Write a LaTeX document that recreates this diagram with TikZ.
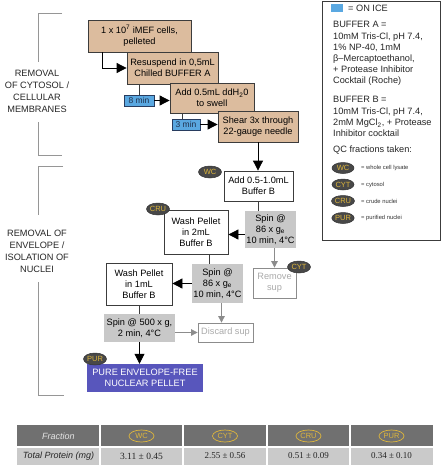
\documentclass[tikz,border=0pt]{standalone}
\usepackage{fontspec}
\setmainfont{Liberation Sans}
\newfontfamily\tabserif{Liberation Serif}
\usetikzlibrary{arrows.meta,shapes.geometric}
\definecolor{tan}{RGB}{220,188,158}
\definecolor{bordr}{RGB}{60,60,60}
\definecolor{icebl}{RGB}{90,168,225}
\definecolor{icebd}{RGB}{40,60,95}
\definecolor{spingr}{RGB}{200,200,200}
\definecolor{lightln}{RGB}{140,140,140}
\definecolor{lighttx}{RGB}{170,170,170}
\definecolor{purebl}{RGB}{88,86,188}
\definecolor{qcfill}{RGB}{72,72,72}
\definecolor{qctext}{RGB}{222,182,60}
\definecolor{brack}{RGB}{150,150,150}
\definecolor{hdrgr}{RGB}{112,112,112}
\definecolor{rowgr}{RGB}{202,202,202}
\begin{document}
\begin{tikzpicture}[x=1pt,y=-1pt,
  txt/.style={font=\fontsize{9.2}{11}\selectfont,align=center,inner sep=0pt},
  tanbox/.style={txt,draw=bordr,line width=0.8pt,fill=tan},
  wbox/.style={txt,draw=bordr,line width=0.8pt,fill=white},
  spinbox/.style={txt,fill=spingr},
  ghost/.style={txt,draw=lightln,line width=0.8pt,fill=white,text=lighttx},
  icebox/.style={font=\fontsize{8.5}{9}\selectfont,inner sep=0pt,draw=icebd,line width=0.7pt,fill=icebl,text=icebd!80!black},
  purebox/.style={txt,fill=purebl,text=white},
  qc/.style={ellipse,fill=qcfill,draw=qcfill!70!black,line width=0.5pt,inner sep=0pt,minimum width=23pt,minimum height=12pt,text=qctext,font=\fontsize{7.5}{7.5}\selectfont},
  qct/.style={ellipse,fill=hdrgr,draw=qctext,line width=0.7pt,inner sep=0pt,minimum width=25pt,minimum height=12pt,text=qctext,font=\fontsize{7.5}{7.5}\selectfont},
  arr/.style={-{Triangle[length=10pt,width=10pt]},line width=0.8pt,draw=black},
  garr/.style={-{Triangle[length=6.5pt,width=6.5pt]},line width=0.8pt,draw=lightln},
  ln/.style={line width=0.8pt,draw=bordr},
  side/.style={font=\fontsize{9.2}{12}\selectfont,align=center,inner sep=0pt,text=black!85},
  leg/.style={font=\fontsize{9.2}{11}\selectfont,align=left,inner sep=0pt,anchor=west,text=black!85},
  legs/.style={font=\fontsize{5.8}{7}\selectfont,inner sep=0pt,anchor=west,text=black!80}]
\useasboundingbox (0,0) rectangle (442,466);
\fill[white] (0,0) rectangle (442,466);

% side brackets
\draw[brack,line width=1pt] (62,13)--(38,13)--(38,62);
\draw[brack,line width=1pt] (38,122)--(38,155)--(62,155);
\draw[brack,line width=1pt] (63,166)--(38,166)--(38,215);
\draw[brack,line width=1pt] (38,282)--(38,395)--(64,395);
\node[side] (sideA) at (37,91) {REMOVAL\\OF CYTOSOL /\\CELLULAR\\MEMBRANES};
\node[side] (sideB) at (37,251) {REMOVAL OF\\ENVELOPE /\\ISOLATION OF\\NUCLEI};

% steps
\node[tanbox,minimum width=103pt,minimum height=32pt] (b1) at (139.5,36) {1 x 10\textsuperscript{7} iMEF cells,\\pelleted};
\node[tanbox,minimum width=91pt,minimum height=32pt] (b2) at (172.5,68) {Resuspend in 0,5mL\\Chilled BUFFER A};
\node[tanbox,minimum width=84pt,minimum height=30pt] (b3) at (212,98) {Add 0.5mL ddH\textsubscript{2}0\\to swell};
\node[tanbox,minimum width=80pt,minimum height=31pt] (sh) at (258,126.5) {Shear 3x through\\22-gauge needle};
\node[icebox,minimum width=30pt,minimum height=11pt] (m8) at (139,100.5) {8 min};
\node[icebox,minimum width=28pt,minimum height=11pt] (m3) at (186,124.5) {3 min};

\node[wbox,minimum width=69pt,minimum height=30pt] (add) at (258.5,186) {Add 0.5-1.0mL\\Buffer B};
\node[spinbox,minimum width=51pt,minimum height=37pt] (s1) at (270.5,229.5) {Spin @\\86 x g\textsubscript{e}\\10 min, 4°C};
\node[wbox,minimum width=64pt,minimum height=44pt] (w2) at (196,232) {Wash Pellet\\in 2mL\\Buffer B};
\node[ghost,minimum width=43pt,minimum height=30pt] (rm) at (274.5,283) {Remove\\sup};
\node[spinbox,minimum width=51pt,minimum height=39pt] (s2) at (217.5,283.5) {Spin @\\86 x g\textsubscript{e}\\10 min, 4°C};
\node[wbox,minimum width=66pt,minimum height=42pt] (w1) at (139,284) {Wash Pellet\\in 1mL\\Buffer B};
\node[spinbox,minimum width=71pt,minimum height=28pt] (s3) at (139.5,328) {Spin @ 500 x g,\\2 min, 4°C};
\node[ghost,minimum width=55pt,minimum height=19pt] (dc) at (225.5,332.5) {Discard sup};
\node[purebox,minimum width=116pt,minimum height=28pt] (pure) at (145,378) {PURE ENVELOPE-FREE\\NUCLEAR PELLET};

% connectors
\draw[arr] ([xshift=-37.5pt]b1.south) |- (b2.west);
\draw[ln] (b2.south -| m8.north) -- (m8.north);
\draw[arr] (m8.east) -- (m8.east -| b3.west);
\draw[ln] ([xshift=-30pt]b3.south) -- ([xshift=-30pt]b3.south |- m3.north);
\draw[arr] (m3.east) -- (m3.east -| sh.west);
\draw[arr] (sh.south) -- (sh.south |- add.north);
\draw[ln] (add.south) -- (add.south |- s1.north);
\draw[arr] ([yshift=-5pt]s1.west) -- ([yshift=-5pt]s1.west -| w2.east);
\draw[garr] (s1.south -| rm.north) -- (rm.north);
\draw[ln] ([xshift=13pt]w2.south) -- ([xshift=13pt]w2.south |- s2.north);
\draw[arr] (s2.west) -- (s2.west -| w1.east);
\draw[garr] ([xshift=4pt]s2.south) -- ([xshift=4pt]s2.south |- dc.north);
\draw[ln] (w1.south) -- (w1.south |- s3.north);
\draw[garr] (s3.east |- dc.west) -- (dc.west);
\draw[arr] (s3.south) -- (s3.south |- pure.north);

% QC markers
\node[qc] (qwc) at (210,172) {WC};
\node[qc] (qcru) at (158,209) {CRU};
\node[qc] (qcyt) at (299,267) {CYT};
\node[qc] (qpur) at (95,359) {PUR};

% legend
\draw[bordr,line width=0.7pt] (322,1) rectangle (440,240);
\fill[icebl] (331,3.5) rectangle (343,12);
\node[leg] (ice) at (348,8) {= ON ICE};
\node[leg] (bat) at (333,24) {BUFFER A =};
\node[leg] (bab) at (333,59) {10mM Tris-Cl, pH 7.4,\\1\% NP-40, 1mM\\β–Mercaptoethanol,\\+ Protease Inhibitor\\Cocktail (Roche)};
\node[leg] (bbt) at (333,99) {BUFFER B =};
\node[leg] (bbb) at (333,122.5) {10mM Tris-Cl, pH 7.4,\\2mM MgCl\textsubscript{2}, + Protease\\Inhibitor cocktail};
\node[leg] (qct) at (333,150) {QC fractions taken:};
\node[qc,minimum width=22pt,minimum height=11pt] (lwc) at (343,168) {WC};
\node[legs] (lwct) at (361,168) {= whole cell lysate};
\node[qc,minimum width=22pt,minimum height=11pt] (lcyt) at (343,184.5) {CYT};
\node[legs] (lcytt) at (361,184.5) {= cytosol};
\node[qc,minimum width=22pt,minimum height=11pt] (lcru) at (343,201) {CRU};
\node[legs] (lcrut) at (361,201) {= crude nuclei};
\node[qc,minimum width=22pt,minimum height=11pt] (lpur) at (343,218) {PUR};
\node[legs] (lpurt) at (361,218) {= purified nuclei};

% table
\fill[hdrgr] (17,425) rectangle (433,447);
\fill[rowgr] (17,447) rectangle (433,465);
\foreach \xx in {100,183,267,350} \draw[white,line width=1.2pt] (\xx,425) -- (\xx,465);
\draw[white,line width=1.5pt] (17,447) -- (433,447);
\node[font=\fontsize{9}{9}\selectfont\itshape,text=white!90!black,inner sep=0pt] (thf) at (58.5,436) {Fraction};
\node[qct] (twc) at (141.5,436) {WC};
\node[qct] (tcyt) at (225,436) {CYT};
\node[qct] (tcru) at (308.5,436) {CRU};
\node[qct] (tpur) at (391.5,436) {PUR};
\node[font=\fontsize{9}{9}\selectfont\itshape,text=black!85,inner sep=0pt] (trp) at (58.5,456) {Total Protein (mg)};
\node[font=\tabserif\fontsize{9.5}{9.5}\selectfont,text=black!85,inner sep=0pt] (v1) at (141.5,456) {3.11 ± 0.45};
\node[font=\tabserif\fontsize{9}{9}\selectfont,text=black!85,inner sep=0pt] (v2) at (225,456) {2.55 ± 0.56};
\node[font=\tabserif\fontsize{9}{9}\selectfont,text=black!85,inner sep=0pt] (v3) at (308.5,456) {0.51 ± 0.09};
\node[font=\tabserif\fontsize{9}{9}\selectfont,text=black!85,inner sep=0pt] (v4) at (391.5,456) {0.34 ± 0.10};
\end{tikzpicture}
\end{document}
